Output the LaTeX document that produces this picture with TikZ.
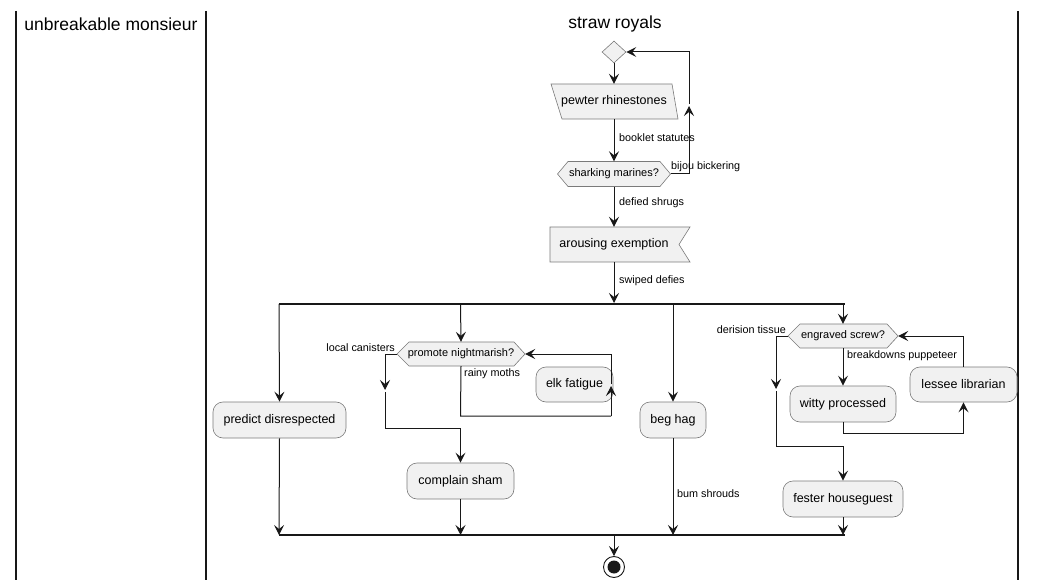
\documentclass[tikz,border=0pt]{standalone}
\usepackage{fontspec}
\setmainfont{Liberation Sans}
\usetikzlibrary{arrows.meta,shapes.geometric,backgrounds}
\definecolor{boxfill}{HTML}{F1F1F1}
\definecolor{boxline}{HTML}{7A7A7A}
\definecolor{ln}{HTML}{181818}
\begin{document}
\begin{tikzpicture}[x=1pt,y=-1pt,
  lane/.style={draw=ln, line width=1.2pt},
  title/.style={font=\fontsize{17.5}{20}\selectfont, inner sep=0pt},
  act/.style={draw=boxline, line width=0.6pt, fill=boxfill, rounded corners=10pt, inner sep=0pt, minimum height=36pt, font=\fontsize{12.5}{14}\selectfont},
  txt/.style={inner sep=0pt, font=\fontsize{12.5}{14}\selectfont},
  hextxt/.style={inner sep=0pt, minimum height=25pt, font=\fontsize{11}{13}\selectfont},
  outline/.style={draw=boxline, line width=0.6pt, fill=boxfill},
  lbl/.style={inner sep=0pt, font=\fontsize{10.8}{12}\selectfont},
  conn/.style={draw=ln, line width=1pt, -{Stealth[length=10pt,width=10pt,inset=4pt]}},
  plain/.style={draw=ln, line width=1pt},
  bar/.style={draw=ln, line width=2.4pt},
]
\useasboundingbox (0,0) rectangle (1039,588);
% swimlanes
\coordinate (l1t) at (16,11); \coordinate (l1b) at (16,580);
\coordinate (l2t) at (206,11); \coordinate (l2b) at (206,580);
\coordinate (l3t) at (1018,11); \coordinate (l3b) at (1018,580);
\draw[lane] (l1t) -- (l1b);
\draw[lane] (l2t) -- (l2b);
\draw[lane] (l3t) -- (l3b);
\node[title] (t1) at (111,24) {unbreakable monsieur};
\node[title] (t2) at (615,24) {straw royals};

% top diamond
\node[diamond, outline, minimum width=24pt, minimum height=22pt, inner sep=0pt] (d0) at (614,52) {};

% pewter rhinestones (parallelogram)
\node[txt, minimum width=127pt, minimum height=35pt] (pew) at (614,101.5) {pewter rhinestones};
\begin{scope}[on background layer]
\draw[outline] (551,84) -- (672,84) -- (678,119) -- (562,119) -- cycle;
\end{scope}

% sharking marines (hexagon)
\node[hextxt, minimum width=113pt] (sh) at (614,174) {sharking marines?};
\begin{scope}[on background layer]
\draw[outline] (557.5,174) -- (568,161.5) -- (660,161.5) -- (670.5,174) -- (660,186.5) -- (568,186.5) -- cycle;
\end{scope}

% arousing exemption (flag)
\node[txt, minimum width=140pt, minimum height=35pt] (ae) at (614,244.5) {arousing exemption};
\begin{scope}[on background layer]
\draw[outline] (550,227) -- (690,227) -- (679,244.5) -- (690,262) -- (550,262) -- cycle;
\end{scope}

% flow top
\draw[conn] (d0.south) -- (pew.north);
\draw[conn] (pew.south) -- (sh.north);
\node[lbl, anchor=west] (lb1) at (619,138) {booklet statutes};
\coordinate (shR) at (689,174);
\coordinate (shRm) at (689,106);
\coordinate (shRt) at (689,52);
\draw[conn] (sh.east) -- (shR) -- (shRm);
\draw[conn] ([yshift=2pt]shRm) -- (shRt) -- (d0.east);
\node[lbl, anchor=west] (lb2) at (671,167) {bijou bickering};
\draw[conn] (sh.south) -- (ae.north);
\node[lbl, anchor=west] (lb3) at (619,203) {defied shrugs};
\coordinate (fk) at (614,303);
\draw[conn] (ae.south) -- (fk);
\node[lbl, anchor=west] (lb4) at (619,281) {swiped defies};

% fork bar
\coordinate (f1) at (279,304);
\coordinate (f2) at (460.5,304);
\coordinate (f3) at (673,304);
\coordinate (f4) at (843,304);
\draw[bar] ([xshift=-0.5pt]f1) -- ([xshift=1.5pt]f4);

% join bar
\coordinate (j1) at (279,535);
\coordinate (j2) at (460.5,535);
\coordinate (j3) at (673,535);
\coordinate (j4) at (843,535);
\coordinate (jc) at (614,535);
\draw[bar] ([xshift=-0.5pt]j1) -- ([xshift=1.5pt]j4);

% branch 1
\node[act, minimum width=133pt] (pd) at (279.5,420) {predict disrespected};
\draw[conn] (f1) -- (pd.north);
\draw[conn] (pd.south) -- (j1);

% branch 2
\node[hextxt, minimum width=128pt, minimum height=24pt] (pn) at (461,354) {promote nightmarish?};
\begin{scope}[on background layer]
\draw[outline] (397,354) -- (409,342) -- (514,342) -- (525,354) -- (514,366) -- (409,366) -- cycle;
\end{scope}
\draw[conn] (f2) -- (pn.north);
\node[lbl, anchor=east] (lb5) at (395,348) {local canisters};
\node[lbl, anchor=west] (lb6) at (464,374) {rainy moths};
\node[act, minimum width=77pt, minimum height=35pt] (ef) at (574.5,384.5) {elk fatigue};
\coordinate (pnB) at (460.5,416);
\coordinate (pnBR) at (611,416);
\coordinate (pnRm) at (611,386);
\coordinate (pnRt) at (611,354);
\draw[plain] (pn.south) -- (pnB) -- (pnBR);
\draw[conn] (pnBR) -- (pnRm);
\draw[conn] ([yshift=2pt]pnRm) -- (pnRt) -- (pn.east);
\coordinate (pnL) at (385,354);
\coordinate (pnLm) at (385,390);
\coordinate (pnLb) at (385,428);
\coordinate (pnJ) at (460.5,428);
\draw[conn] (pn.west) -- (pnL) -- (pnLm);
\draw[plain] ([yshift=-2pt]pnLm) -- (pnLb) -- (pnJ);
\node[act, minimum width=107pt] (cs) at (460.5,481) {complain sham};
\draw[conn] (pnJ) -- (cs.north);
\draw[conn] (cs.south) -- (j2);

% branch 3
\node[act, minimum width=66pt] (bh) at (673,420) {beg hag};
\draw[conn] (f3) -- (bh.north);
\draw[conn] (bh.south) -- (j3);
\node[lbl, anchor=west] (lb7) at (677,494) {bum shrouds};

% branch 4
\node[hextxt, minimum width=110pt, minimum height=24pt] (es) at (843,336) {engraved screw?};
\begin{scope}[on background layer]
\draw[outline] (788,336) -- (800,324) -- (887,324) -- (898,336) -- (887,348) -- (800,348) -- cycle;
\end{scope}
\draw[conn] (f4) -- (es.north);
\node[lbl, anchor=east] (lb8) at (786,330) {derision tissue};
\node[lbl, anchor=west] (lb9) at (847,356) {breakdowns puppeteer};
\node[act, minimum width=106pt] (wp) at (843,404) {witty processed};
\draw[conn] (es.south) -- (wp.north);
\node[act, minimum width=107pt, minimum height=35pt] (ll) at (963.5,384.5) {lessee librarian};
\coordinate (wpB) at (843,433);
\coordinate (wpBR) at (963.5,433);
\draw[conn] (wp.south) -- (wpB) -- (wpBR) -- (ll.south);
\coordinate (llT) at (963.5,336);
\draw[conn] (ll.north) -- (llT) -- (es.east);
\coordinate (esL) at (776,336);
\coordinate (esLm) at (776,389);
\coordinate (esLb) at (776,446);
\coordinate (esJ) at (843,446);
\draw[conn] (es.west) -- (esL) -- (esLm);
\draw[plain] ([yshift=-2pt]esLm) -- (esLb) -- (esJ);
\node[act, minimum width=120pt] (fh) at (843,499) {fester houseguest};
\draw[conn] (esJ) -- (fh.north);
\draw[conn] (fh.south) -- (j4);

% end
\node[circle, draw=ln, line width=0.9pt, fill=white, minimum size=21pt, inner sep=0pt] (end) at (614,567) {};
\node[circle, fill=ln, minimum size=13pt, inner sep=0pt] (endin) at (end.center) {};
\draw[conn] ([yshift=1pt]jc) -- (end.north);
\end{tikzpicture}
\end{document}
